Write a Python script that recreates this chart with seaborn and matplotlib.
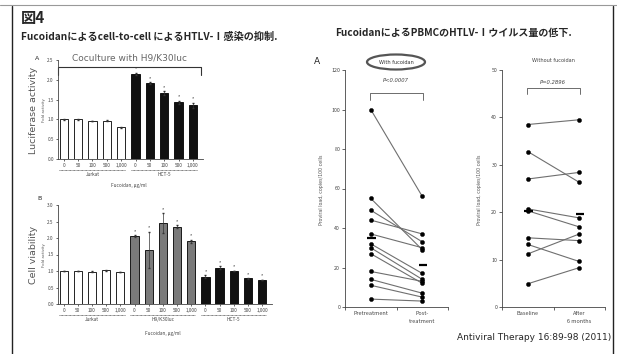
import numpy as np
import pandas as pd
import matplotlib
matplotlib.use("Agg")
import matplotlib.pyplot as plt
from matplotlib.patches import Ellipse
import seaborn as sns

sns.set_style("white")
plt.rcParams['font.family'] = ['Noto Sans CJK JP', 'DejaVu Sans']

# ---- data ----
doses = ["0", "50", "100", "500", "1,000"]

# A: luciferase activity (fold)
lucA_jurkat = [1.00, 1.00, 0.96, 0.97, 0.80]
lucA_hct5 = [2.15, 1.92, 1.66, 1.43, 1.36]
lucA_err_jurkat = [0.01, 0.01, 0.01, 0.02, 0.02]
lucA_err_hct5 = [0.03, 0.02, 0.05, 0.04, 0.06]

# B: cell viability (fold)
viab_jurkat = [1.00, 1.00, 0.98, 1.02, 0.97]
viab_h9 = [2.06, 1.64, 2.46, 2.34, 1.90]
viab_hct5 = [0.83, 1.10, 1.00, 0.78, 0.73]
viab_err_jurkat = [0.01, 0.01, 0.01, 0.01, 0.01]
viab_err_h9 = [0.02, 0.55, 0.30, 0.05, 0.05]
viab_err_hct5 = [0.04, 0.04, 0.01, 0.01, 0.01]

# proviral load, with fucoidan
pre_treat = [100, 55, 49, 44, 37, 32, 30, 27, 18, 14, 11, 4]
post_treat = [56, 29, 33, 37, 30, 17, 14, 12, 13, 7, 5, 3]

# proviral load, without fucoidan
baseline = [38.5, 32.8, 27.0, 20.7, 20.3, 14.6, 13.2, 11.2, 4.9]
after_6m = [39.5, 26.3, 28.4, 18.8, 16.9, 14.0, 9.6, 15.4, 8.3]

W, H = 617, 354
fig = plt.figure(figsize=(W / 100, H / 100), dpi=100)

bg = fig.add_axes([0, 0, 1, 1])
bg.set_xlim(0, W)
bg.set_ylim(H, 0)
bg.axis("off")


def px_axes(x0, y0, x1, y1):
    ax = fig.add_axes([x0 / W, 1 - y1 / H, (x1 - x0) / W, (y1 - y0) / H])
    ax.set_facecolor("none")
    return ax


def bar_panel(ax, groups, colors, ymax):
    rows = []
    for g, (name, vals, errs) in enumerate(groups):
        for d, v, e in zip(doses, vals, errs):
            rows.append(dict(key=f"{name}|{d}", group=name, dose=d, value=v, err=e))
    df = pd.DataFrame(rows)
    sns.barplot(data=df, x="key", y="value", hue="group", palette=colors,
                dodge=False, edgecolor="black", linewidth=0.6, width=0.58,
                legend=False, ax=ax)
    ax.errorbar(np.arange(len(df)), df["value"], yerr=df["err"], fmt="none",
                ecolor="#333333", elinewidth=0.5, capsize=1)
    for i, (v, e) in enumerate(zip(df["value"], df["err"])):
        if i >= 5:
            ax.text(i, v + e + 0.03, "*", ha="center", va="bottom", fontsize=3.5,
                    color="#333333")
    ax.set_xticks(np.arange(len(df)))
    ax.set_xticklabels(df["dose"], fontsize=3.4, color="#444444")
    ax.set_yticks(np.arange(0, ymax + 0.01, 0.5))
    ax.set_yticklabels([f"{t:.1f}" for t in np.arange(0, ymax + 0.01, 0.5)],
                       fontsize=3.4, color="#444444")
    ax.set_ylim(0, ymax)
    ax.set_xlim(-0.4, len(df) - 0.3)
    ax.set_xlabel("")
    ax.set_ylabel("")
    ax.tick_params(length=1.5, width=0.5, pad=1.5, bottom=True, left=True)
    for s in ["top", "right"]:
        ax.spines[s].set_visible(False)
    for s in ["left", "bottom"]:
        ax.spines[s].set_linewidth(0.6)
        ax.spines[s].set_color("#444444")
    tr = ax.get_xaxis_transform()
    for g, (name, _, _) in enumerate(groups):
        x0, x1 = g * 5 - 0.3, g * 5 + 4.3
        ax.plot([x0, x1], [-0.11, -0.11], transform=tr, clip_on=False,
                color="#555555", lw=0.6, ls=(0, (1, 0.6)))
        ax.text(g * 5 + 2, -0.135, name, transform=tr, ha="center", va="top",
                fontsize=3.4, color="#444444")


# ---- panel A (luciferase) ----
axA = px_axes(58, 60, 203, 159)
bar_panel(axA, [("Jurkat", lucA_jurkat, lucA_err_jurkat),
                ("HCT-5", lucA_hct5, lucA_err_hct5)],
          ["white", "#111111"], 2.5)
axA.text(4.5, -0.24, "Fucoidan, μg/ml", transform=axA.get_xaxis_transform(),
         ha="center", va="top", fontsize=3.4, color="#444444")
bg.plot([58, 58, 201, 201], [75, 67, 67, 75], color="#333333", lw=0.8)
bg.text(130, 58, "Coculture with H9/K30luc", ha="center", va="center",
        fontsize=6.5, color="#666666", family=["DejaVu Sans"])
bg.text(37, 59, "A", fontsize=4.5, ha="center", va="center", family=["DejaVu Sans"])
bg.text(33, 110, "Luciferase activity", rotation=90, ha="center", va="center",
        fontsize=6.8, color="#555555", family=["DejaVu Sans"])
bg.text(44, 110, "Fold activity", rotation=90, ha="center", va="center",
        fontsize=2.8, color="#555555", family=["DejaVu Sans"])

# ---- panel B (viability) ----
axB = px_axes(58, 205, 272, 304)
bar_panel(axB, [("Jurkat", viab_jurkat, viab_err_jurkat),
                ("H9/K30luc", viab_h9, viab_err_h9),
                ("HCT-5", viab_hct5, viab_err_hct5)],
          ["white", "#7a7a7a", "#111111"], 3.0)
axB.text(7, -0.27, "Fucoidan, μg/ml", transform=axB.get_xaxis_transform(),
         ha="center", va="top", fontsize=3.4, color="#444444")
bg.text(40, 199, "B", fontsize=4.5, ha="center", va="center", family=["DejaVu Sans"])
bg.text(33, 255, "Cell viability", rotation=90, ha="center", va="center",
        fontsize=6.8, color="#555555", family=["DejaVu Sans"])
bg.text(44, 255, "Fold activity", rotation=90, ha="center", va="center",
        fontsize=2.8, color="#555555", family=["DejaVu Sans"])


def paired_panel(ax, before, after, labels, ymax, step):
    n = len(before)
    df = pd.DataFrame({
        "subject": list(range(n)) * 2,
        "x": [0.5] * n + [1.5] * n,
        "value": list(before) + list(after),
    })
    sns.lineplot(data=df, x="x", y="value", units="subject", estimator=None,
                 color="#6f6f6f", lw=0.8, ax=ax, legend=False)
    sns.scatterplot(data=df, x="x", y="value", color="black", s=9,
                    edgecolor="black", linewidth=0.3, ax=ax, zorder=3)
    ax.hlines([np.mean(before), np.mean(after)], [0.43, 1.43], [0.6, 1.6],
              color="black", lw=1.6, zorder=4)
    ax.set_xlim(0, 2)
    ax.set_ylim(0, ymax)
    ax.set_xticks([0.5, 1.5])
    ax.set_xticklabels(labels, fontsize=4.0, color="#444444", linespacing=1.6)
    ax.set_xticks([0, 1, 2], minor=True)
    ax.set_yticks(np.arange(0, ymax + 1, step))
    ax.set_yticklabels([str(int(t)) for t in np.arange(0, ymax + 1, step)],
                       fontsize=3.8, color="#444444")
    ax.tick_params(axis="x", which="major", length=0, pad=3)
    ax.tick_params(axis="x", which="minor", length=2, width=0.5, bottom=True)
    ax.tick_params(axis="y", length=2, width=0.5, pad=1.5, left=True)
    ax.set_xlabel("")
    ax.set_ylabel("")
    for s in ["top", "right"]:
        ax.spines[s].set_visible(False)
    for s in ["left", "bottom"]:
        ax.spines[s].set_linewidth(0.6)
        ax.spines[s].set_color("#444444")


# ---- proviral load, with fucoidan ----
axC = px_axes(345, 70, 448, 307)
paired_panel(axC, pre_treat, post_treat, ["Pretreatment", "Post-\ntreatment"], 120, 20)
bg.add_patch(Ellipse((396, 62), 58, 15, fill=False, edgecolor="#555555", lw=1.6))
bg.text(396, 62, "With fucoidan", ha="center", va="center", fontsize=3.6,
        color="#333333", family=["DejaVu Sans"])
bg.text(396, 81, "P<0.0007", ha="center", va="center", fontsize=3.8,
        style="italic", color="#444444", family=["DejaVu Sans"])
bg.plot([370, 370, 423, 423], [100, 93, 93, 100], color="#555555", lw=0.6)
bg.text(317, 62, "A", fontsize=6.5, ha="center", va="center", family=["DejaVu Sans"])
bg.text(322, 190, "Proviral load, copies/100 cells", rotation=90, ha="center",
        va="center", fontsize=3.4, color="#555555", family=["DejaVu Sans"])

# ---- proviral load, without fucoidan ----
axD = px_axes(502, 70, 605, 307)
paired_panel(axD, baseline, after_6m, ["Baseline", "After\n6 months"], 50, 10)
bg.text(553, 60, "Without fucoidan", ha="center", va="center", fontsize=3.6,
        color="#444444", family=["DejaVu Sans"])
bg.text(553, 82, "P=0.2896", ha="center", va="center", fontsize=3.8,
        style="italic", color="#444444", family=["DejaVu Sans"])
bg.plot([527, 527, 580, 580], [94, 88, 88, 94], color="#555555", lw=0.6)
bg.text(480, 190, "Proviral load, copies/100 cells", rotation=90, ha="center",
        va="center", fontsize=3.4, color="#555555", family=["DejaVu Sans"])

# ---- titles and frame ----
bg.text(21, 18, "図4", fontsize=11, fontweight="bold", ha="left", va="center")
bg.text(21, 37, "Fucoidanによるcell-to-cell によるHTLV-Ⅰ感染の抑制.", fontsize=7.3,
        fontweight="bold", ha="left", va="center")
bg.text(335, 33, "FucoidanによるPBMCのHTLV-Ⅰウイルス量の低下.", fontsize=7.2,
        fontweight="bold", ha="left", va="center")
bg.text(611, 338, "Antiviral Therapy 16:89-98 (2011)", fontsize=6.5,
        ha="right", va="center", family=["DejaVu Sans"])
bg.plot([12, 12], [6, H], color="#222222", lw=1.0)
bg.plot([613, 613], [6, H], color="#222222", lw=1.0)
bg.plot([0, W], [5, 5], color="#999999", lw=0.8)

fig.savefig("out.png", dpi=100)
